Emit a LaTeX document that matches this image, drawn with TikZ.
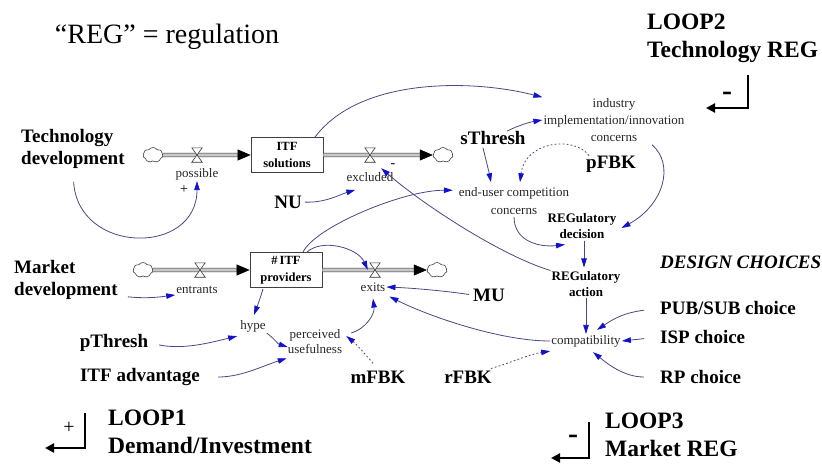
\documentclass[tikz,border=0pt]{standalone}
\usepackage{fontspec}
\setmainfont{Liberation Serif}
\usetikzlibrary{arrows.meta,shapes.symbols,calc}
\definecolor{linkcol}{RGB}{72,72,132}
\definecolor{tipcol}{RGB}{16,16,205}
\definecolor{pipefill}{RGB}{200,200,200}
\begin{document}
\begin{tikzpicture}[x=1pt,y=-1pt,
  lab/.style={font=\fontsize{19}{22}\selectfont\bfseries, inner sep=1pt},
  title/.style={font=\fontsize{23.5}{28}\selectfont\bfseries, align=left, inner sep=0pt, anchor=north west},
  aux/.style={font=\fontsize{13}{16}\selectfont, align=center, inner sep=1pt, text=black!85},
  auxbf/.style={font=\fontsize{13}{15.5}\selectfont\bfseries, align=center, inner sep=1pt},
  stock/.style={draw=black!75, line width=0.8pt, font=\fontsize{12.5}{16.5}\selectfont\bfseries, align=center, minimum width=72pt, minimum height=35pt, inner sep=0pt},
  src/.style={cloud, cloud puffs=7, cloud puff arc=110, aspect=1.35, draw=black!75, fill=white, line width=0.6pt, minimum width=20pt, minimum height=15pt, inner sep=0pt},
  valve/.style={minimum width=10pt, minimum height=14pt, inner sep=0pt},
  pipe/.style={draw=black!80, line width=0.55pt, double=pipefill, double distance=3.2pt},
  flowtip/.style={-{Triangle[length=13pt,width=11pt,color=black]}},
  link/.style={draw=linkcol, line width=0.8pt, -{Triangle[length=9pt,width=5.5pt,color=tipcol]}},
  fbk/.style={link, dash pattern=on 1.8pt off 2.2pt},
  sign/.style={font=\fontsize{14}{14}\selectfont, inner sep=0pt},
  loopminus/.style={font=\fontsize{30}{30}\selectfont\bfseries, inner sep=0pt},
  loopline/.style={draw=black, line width=2.2pt, -{Triangle[length=9pt,width=9pt]}}
]
\useasboundingbox (0,0) rectangle (822,466);

% ---- titles ----
\node[font=\fontsize{28}{30}\selectfont, inner sep=0pt] (regnote) at (167,36.5) {“REG” = regulation};
\node[title] (loop2) at (647,14) {LOOP2\\Technology REG};
\node[title] (loop1) at (108,410) {LOOP1\\Demand/Investment};
\node[title] (loop3) at (605,413) {LOOP3\\Market REG};

% ---- technology chain ----
\node[lab, align=left, anchor=west] (tech) at (20,149) {Technology\\development};
\node[src] (c1) at (153,155) {};
\node[stock] (sol) at (287,155) {ITF\\solutions};
\node[src] (c2) at (443,155) {};
\node[valve] (v1) at (197,155) {};
\node[valve] (v2) at (370,155) {};
\node[aux] (poss) at (197,174) {possible};
\node[aux] (excl) at (370,177) {excluded};
\node[sign] (plus1) at (184,190) {+};
\node[sign] (minus1) at (393,166) {-};
\node[lab] (nu) at (288,202) {NU};

% ---- regulation ----
\node[aux, font=\fontsize{13}{17}\selectfont] (ind) at (614,120) {industry\\implementation/innovation\\concerns};
\node[lab] (sthr) at (493,138) {sThresh};
\node[lab] (pfbk) at (611,164) {pFBK};
\node[aux, font=\fontsize{13}{18}\selectfont] (eu) at (514,201) {end-user competition\\concerns};
\node[auxbf] (rdec) at (582,226) {REGulatory\\decision};
\node[auxbf] (ract) at (586,284) {REGulatory\\action};
\node[aux] (comp) at (586,341) {compatibility};
\node[lab, font=\fontsize{19}{22}\selectfont\bfseries\itshape, anchor=west] (design) at (659,262) {DESIGN CHOICES};
\node[lab, anchor=west] (pub) at (659,308) {PUB/SUB choice};
\node[lab, anchor=west] (isp) at (659,337) {ISP choice};
\node[lab, anchor=west] (rp) at (659,377) {RP choice};

% ---- market chain ----
\node[lab, align=left, anchor=west] (market) at (13,280) {Market\\development};
\node[src] (c3) at (143,270) {};
\node[stock] (prov) at (286,270) {\#\,ITF\\providers};
\node[src] (c4) at (437,270) {};
\node[valve] (v3) at (200,270) {};
\node[valve] (v4) at (375,270) {};
\node[aux] (ent) at (197,290) {entrants};
\node[aux] (exits) at (373,287) {exits};
\node[lab] (mu) at (489,295) {MU};
\node[aux] (hype) at (253,326) {hype};
\node[aux, font=\fontsize{13}{15}\selectfont] (perc) at (315,342) {perceived\\usefulness};
\node[lab] (pthr) at (114,343) {pThresh};
\node[lab] (itfa) at (140,377) {ITF advantage};
\node[lab] (mfbk) at (378,377) {mFBK};
\node[lab] (rfbk) at (468,377) {rFBK};

% ---- flow pipes and valves ----
\draw[pipe, flowtip] (c1.east) -- (sol.west);
\draw[pipe, flowtip] (sol.east) -- (c2.west);
\draw[pipe, flowtip] (c3.east) -- (prov.west);
\draw[pipe, flowtip] (prov.east) -- (c4.west);
\foreach \v in {v1,v2,v3,v4}
  \draw[black!80, line width=0.6pt, fill=white]
    (\v.north west) -- (\v.north east) -- (\v.south west) -- (\v.south east) -- cycle;

% ---- causal links ----
\draw[link, shorten <=12pt] (tech.south) .. controls +(5,85) and +(0,75) .. (poss.south);
\draw[link, shorten <=2pt] (nu.east) .. controls +(22,1) and +(-16,5) .. ($(excl.south west)+(10,7)$);
\draw[link] ($(sol.north)+(28,0)$) .. controls +(45,-60) and +(-70,-18) .. (ind.north west);
\draw[link] ($(sthr.north)+(14,1)$) .. controls +(12,-6) and +(-12,2) .. (ind.west);
\draw[link] ($(sthr.south)+(-10,2)$) .. controls +(3,12) and +(-2,-10) .. ($(eu.north)+(-23,-4)$);
\draw[fbk] ($(pfbk.north west)+(4,1)$) .. controls +(-15,-20) and +(5,-41) .. ($(eu.north)+(6,-4)$);
\draw[link] ($(ind.south)+(38,2)$) .. controls +(23,20) and +(42,-23) .. ($(rdec.east)+(4,2)$);
\draw[link] ($(eu.south)+(0,1)$) .. controls +(0,25) and +(-25,3) .. ($(rdec.south)+(-17,5)$);
\draw[link] ($(rdec.south)+(2,1)$) -- ($(ract.north)+(-2,-3)$);
\draw[link] (ract.south) -- (comp.north);
\draw[link] (ract.north west) .. controls +(-50,-15) and +(40,35) .. ($(v2.south east)+(6,6)$);
\draw[link] ($(prov.north)+(17,0)$) .. controls +(12,-25) and +(-50,0) .. ($(eu.north west)+(-5,4)$);
\draw[link] ($(prov.north)+(21,0)$) .. controls +(15,-14) and +(-10,-22) .. ($(v4.north west)+(-2,7)$);
\draw[link, shorten <=3pt] (mu.west) .. controls +(-25,-4) and +(25,1) .. (exits.east);
\draw[link] (comp.west) .. controls +(-50,0) and +(40,20) .. ($(exits.south east)+(3,4)$);
\draw[link, shorten <=15pt] (pub.west) .. controls +(-35,5) and +(18,-12) .. ($(comp.north)+(11,-4)$);
\draw[link, shorten <=15pt] (isp.west) -- (comp.east);
\draw[link, shorten <=15pt] (rp.west) .. controls +(-35,0) and +(15,12) .. ($(comp.south)+(7,4)$);
\draw[fbk] ($(rfbk.north east)+(-2,-1)$) .. controls +(20,-6) and +(-20,3) .. ($(comp.south west)+(0,3)$);
\draw[fbk, shorten <=8pt] (mfbk.north) .. controls +(-8,-10) and +(10,8) .. ($(perc.east)+(3,-6)$);
\draw[link] ($(perc.east)+(8,-9)$) .. controls +(14,-4) and +(2,16) .. ($(exits.south)+(0,6)$);
\draw[link] ($(prov.south)+(-23,1)$) .. controls +(-3,10) and +(3,-8) .. ($(hype.north)+(1,-4)$);
\draw[link] (hype.south east) .. controls +(8,6) and +(-10,-3) .. ($(perc.west)+(1,5)$);
\draw[link, shorten <=10pt] (pthr.east) .. controls +(35,7) and +(-25,6) .. ($(hype.south west)+(-2,3)$);
\draw[link, shorten <=17pt] (itfa.east) .. controls +(40,0) and +(-25,8) .. ($(perc.south west)+(0,3)$);
\draw[link] ($(market.south east)+(9,-4)$) .. controls +(20,2) and +(-15,2) .. (ent.south west);

% ---- loop polarity symbols ----
\draw[loopline] (748,75) -- (748,108) -- (706,108);
\node[loopminus] (s2) at (727,96) {-};
\draw[loopline] (85,413) -- (85,448) -- (45,448);
\node[font=\fontsize{20}{20}\selectfont, inner sep=0pt] (s1) at (69,428) {+};
\draw[loopline] (589,422) -- (589,458) -- (551,458);
\node[loopminus] (s3) at (573,439) {-};
\end{tikzpicture}
\end{document}
